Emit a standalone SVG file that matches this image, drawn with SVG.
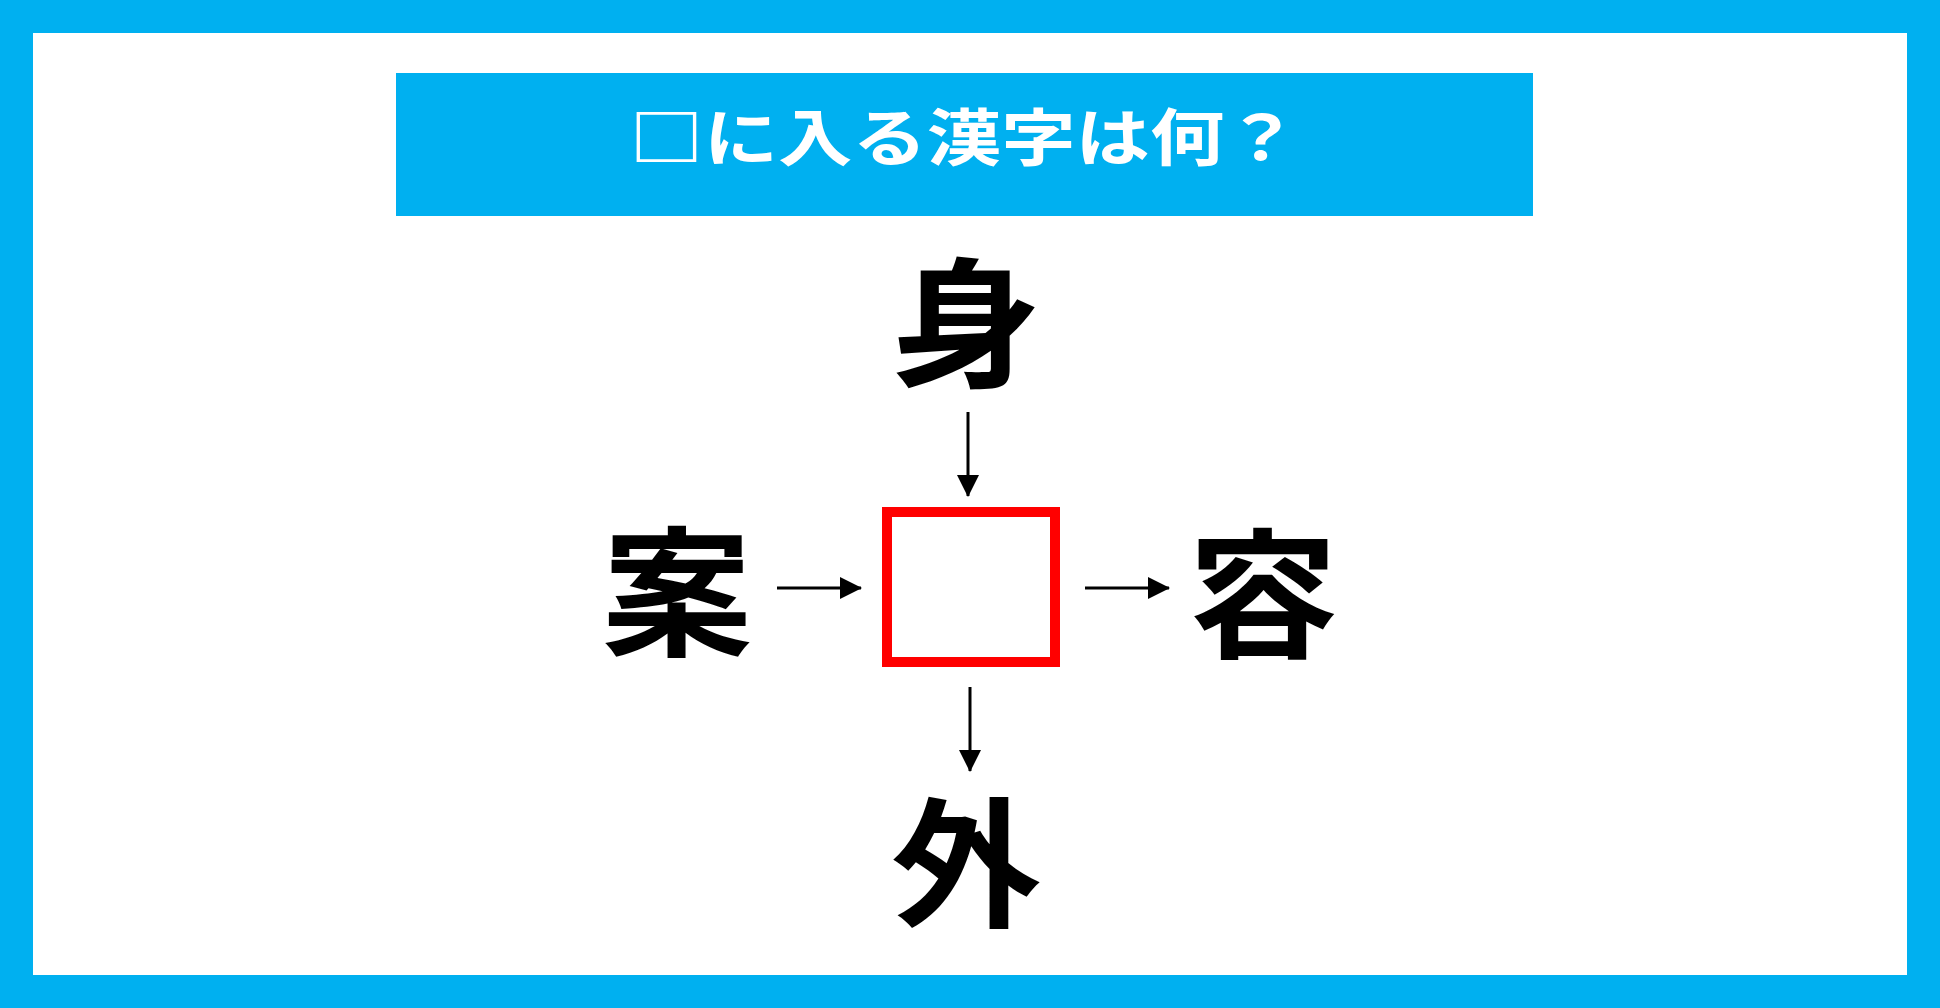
<svg xmlns="http://www.w3.org/2000/svg" width="1940" height="1008" viewBox="0 0 1940 1008">
<defs>
<marker id="ah" markerUnits="userSpaceOnUse" markerWidth="22" markerHeight="22" viewBox="0 0 22 22" refX="21" refY="11" orient="auto">
<path d="M0,0 L22,11 L0,22 Z" fill="#000"/>
</marker>
<style>
.k{font-family:"Noto Sans CJK JP","Noto Sans CJK SC",sans-serif;font-weight:bold;font-size:150px;fill:#000;text-anchor:middle}
.t{font-family:"Noto Sans CJK JP","Noto Sans CJK SC",sans-serif;font-weight:bold;font-size:62px;fill:#fff;text-anchor:middle}
.c{stroke:#000;stroke-width:3;fill:none;marker-end:url(#ah)}
</style>
</defs>
<rect x="0" y="0" width="1940" height="1008" fill="#00b0f0"/>
<rect x="33" y="33" width="1874" height="942" fill="#fff"/>
<g id="title">
<rect x="396" y="73" width="1137" height="143" fill="#00b0f0"/>
<text class="t" transform="translate(964,161) scale(1.2,1)">□に入る漢字は何？</text>
</g>
<g id="node-top" transform="translate(966,323) scale(1,0.935)"><text class="k" x="0" y="57">身</text></g>
<g id="node-left" transform="translate(677,592) scale(1,0.935)"><text class="k" x="0" y="57">案</text></g>
<g id="node-right" transform="translate(1263,594) scale(1,0.935)"><text class="k" x="0" y="57">容</text></g>
<g id="node-bottom" transform="translate(966,863) scale(1,0.935)"><text class="k" x="0" y="57">外</text></g>
<g id="node-center"><rect x="887" y="512" width="168" height="150" fill="none" stroke="#ff0000" stroke-width="10"/></g>
<g id="connectors">
<line class="c" x1="968" y1="412" x2="968" y2="496"/>
<line class="c" x1="777" y1="588" x2="861" y2="588"/>
<line class="c" x1="1085" y1="588" x2="1169" y2="588"/>
<line class="c" x1="970" y1="687" x2="970" y2="771"/>
</g>
</svg>
